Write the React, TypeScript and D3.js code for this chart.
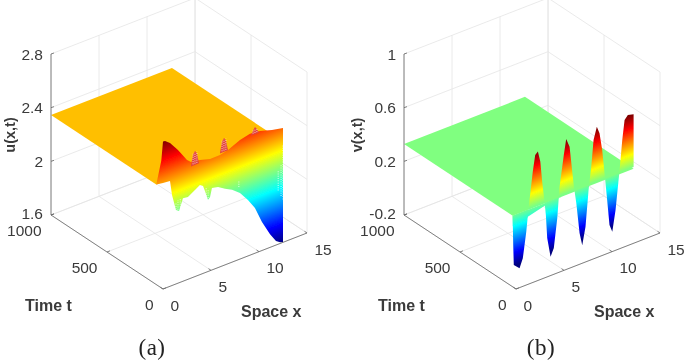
import React from 'react';
import * as d3 from 'd3';

// tick labels
const xTicks = [0, 5, 10, 15];
const tTicks = [0, 500, 1000];
const uTicks = [1.6, 2, 2.4, 2.8];
const vTicks = [-0.2, 0.2, 0.6, 1];

// panel (a): u(x,t) values read along the front of the surface
const uPlate = 2.345;
const uPlateEnd = 60;
const uRidgeX = [0, 0.21, 0.73, 1.56, 2.5, 2.92, 3.85, 4.9, 5.94, 6.77, 8.02, 9.06, 10.1, 11.35, 12.5];
const uRidge = [2.7, 2.697, 2.668, 2.593, 2.492, 2.465, 2.454, 2.432, 2.433, 2.447, 2.487, 2.505, 2.497, 2.469, 2.452];
const uLowX = [12.5, 12.19, 11.77, 11.15, 10.31, 9.58, 8.85, 8.02, 7.19, 6.46, 5.73, 5.1, 4.9, 4.69, 4.38, 4.17, 3.85, 3.33, 2.6, 2.08, 1.67, 1.35, 0.94, 0.73, 0];
const uLow = [1.602, 1.61, 1.63, 1.698, 1.812, 1.937, 2.017, 2.092, 2.139, 2.167, 2.2, 2.21, 2.15, 2.133, 2.206, 2.251, 2.268, 2.245, 2.213, 2.218, 2.135, 2.151, 2.274, 2.385, 2.39];
const uSpikeX = [3.33, 6.35, 9.58];
const uSpikeTop = [2.536, 2.549, 2.54];
const uSpikeBase = [2.432, 2.445, 2.487];
// sparse mesh patches: x, low, high
const uSparse = [
  [12.5, 1.92, 2.325], [12.3, 1.95, 2.18], [12.0, 2.0, 2.15],
  [1.35, 2.14, 2.2], [1.56, 2.13, 2.22], [1.8, 2.16, 2.22],
  [4.5, 2.15, 2.23], [4.7, 2.13, 2.21], [7.9, 2.14, 2.19],
];

// panel (b): v(x,t)
const vPlate = 0.33;
const vFrontT = 30;
const vWaveX = [0.06, 0.12, 0.72, 1.06, 1.42, 1.66, 2.1, 2.35, 2.63, 2.88, 3.08, 3.32, 3.46, 3.6, 3.95, 4.29, 4.65, 4.89, 5.33, 5.58, 5.93, 6.38, 6.63, 6.97, 7.25, 7.59, 7.91, 8.19, 8.43, 8.77, 9.05, 9.33, 9.57, 9.81, 10.09, 10.38, 10.72, 11.14, 11.42, 11.66, 12.0, 12.6, 12.6];
const vWave = [0.11, -0.041, -0.082, -0.017, 0.171, 0.339, 0.6, 0.717, 0.735, 0.653, 0.498, 0.342, 0.239, 0.063, -0.086, -0.03, 0.184, 0.41, 0.634, 0.746, 0.679, 0.369, 0.24, 0.007, -0.092, 0.037, 0.302, 0.467, 0.659, 0.749, 0.693, 0.559, 0.381, 0.199, -0.02, -0.078, 0.074, 0.36, 0.577, 0.719, 0.746, 0.735, 0.342];
// small dip of the front edge next to x = 0
const vDipX = [5.2, 3.3, 1.58, 0.9, 0.02, 0];
const vDip = [0.33, 0.31, 0.278, 0.22, 0.25, 0.33];

const jet = (v: number) => {
  const f = (d: number) => Math.round(255 * Math.max(0, Math.min(1, 1.5 - Math.abs(4 * v - d))));
  return `rgb(${f(3)},${f(2)},${f(1)})`;
};

const xS = d3.scaleLinear().domain([0, 15]).range([0, 144]);
const xSy = d3.scaleLinear().domain([0, 15]).range([0, -56]);
const tS = d3.scaleLinear().domain([0, 1000]).range([0, -112]);
const tSy = d3.scaleLinear().domain([0, 1000]).range([0, -74]);
const zH = 161;

function Panel({ dx, zTicks, zLabel, labelX, cap, capX, colorDomain, children }: any) {
  const zS = d3.scaleLinear().domain([zTicks[0], zTicks[3]]).range([0, -zH]);
  const P = (x: number, t: number, z: number) => [
    dx + 163 + xS(x) + tS(t),
    289 + xSy(x) + tSy(t) + zS(z),
  ];
  const L = (a: number[], b: number[], key: any, stroke = '#e4e4e4', w = 0.8) => (
    <line key={key} x1={a[0]} y1={a[1]} x2={b[0]} y2={b[1]} stroke={stroke} strokeWidth={w} />
  );
  const z0 = zTicks[0];
  const z1 = zTicks[3];

  // gradient running along z, its bands parallel to the x axis
  const o = P(0, 0, colorDomain[1]);
  const ex = P(1, 0, colorDomain[1]);
  const ez = P(0, 0, colorDomain[0]);
  const matrix = `matrix(${ex[0] - o[0]},${ex[1] - o[1]},${ez[0] - o[0]},${ez[1] - o[1]},${o[0]},${o[1]})`;
  const gid = `jet${dx}`;
  const poly = d3.line();

  return (
    <g>
      <defs>
        <linearGradient id={gid} gradientUnits="userSpaceOnUse" x1={0} y1={0} x2={0} y2={1} gradientTransform={matrix}>
          {d3.range(0, 1.001, 1 / 16).map((s) => (
            <stop key={s} offset={s} stopColor={jet(1 - s)} />
          ))}
        </linearGradient>
      </defs>

      {/* walls and floor */}
      {zTicks.map((z: number, i: number) => L(P(0, 1000, z), P(15, 1000, z), 'zb' + i))}
      {zTicks.map((z: number, i: number) => L(P(15, 1000, z), P(15, 0, z), 'zr' + i))}
      {xTicks.map((x) => L(P(x, 1000, z0), P(x, 1000, z1), 'xb' + x))}
      {tTicks.map((t) => L(P(15, t, z0), P(15, t, z1), 'tr' + t))}
      {xTicks.map((x) => L(P(x, 0, z0), P(x, 1000, z0), 'xf' + x))}
      {tTicks.map((t) => L(P(0, t, z0), P(15, t, z0), 'tf' + t))}

      {children({ P, gid, poly })}

      {/* axes */}
      {L(P(0, 1000, z0), P(0, 1000, z1), 'az', '#666')}
      {L(P(0, 0, z0), P(0, 1000, z0), 'at', '#666')}
      {L(P(0, 0, z0), P(15, 0, z0), 'ax', '#666')}
      {zTicks.map((z: number, i: number) => {
        const p = P(0, 1000, z);
        return (
          <g key={'zt' + i}>
            {L(p, [p[0] + 3, p[1] - 1], 'm', '#666')}
            <text x={p[0] - 8} y={p[1] + (i === 0 ? 4 : 5.5)} textAnchor="end" fontSize={15.5}>{d3.format('.1~f')(z).replace('−', '-')}</text>
          </g>
        );
      })}
      {tTicks.map((t) => {
        const p = P(0, t, z0);
        return (
          <g key={'tt' + t}>
            {L(p, [p[0] + 3, p[1] - 1.2], 'm', '#666')}
            <text x={p[0] - 9.5} y={p[1] + 20.5} textAnchor="end" fontSize={15.5}>{t}</text>
          </g>
        );
      })}
      {xTicks.map((x) => {
        const p = P(x, 0, z0);
        return (
          <g key={'xt' + x}>
            {L(p, [p[0] - 2.5, p[1] - 1.7], 'm', '#666')}
            <text x={p[0] + 7.5} y={p[1] + 21.5} fontSize={15.5}>{x}</text>
          </g>
        );
      })}

      <text transform={`translate(${labelX},135) rotate(-90)`} textAnchor="middle" fontSize={14.5} fontWeight="bold">{zLabel}</text>
      <text x={dx + 25} y={311} fontSize={16} fontWeight="bold">Time t</text>
      <text x={dx + 241} y={317} fontSize={16} fontWeight="bold">Space x</text>
      <text x={capX} y={355} textAnchor="middle" fontSize={23} letterSpacing={0.5} fill="#222" style={{ fontFamily: "'Liberation Serif',serif" }}>{cap}</text>
    </g>
  );
}

export default function App() {
  return (
    <svg width={685} height={362} style={{ position: 'absolute', left: 0, top: 0 }} fontFamily="'Liberation Sans',Arial,sans-serif" fill="#3a3a3a">
      <defs>
        <filter id="soft" x="0" y="0" width="100%" height="100%">
          <feGaussianBlur stdDeviation="0.45" />
        </filter>
      </defs>
      <g filter="url(#soft)">
        <Panel dx={0} zTicks={uTicks} zLabel="u(x,t)" labelX={15} cap="(a)" capX={152} colorDomain={[1.6, 2.7]}>
          {({ P, gid, poly }: any) => {
            const plate = [P(0, 1000, uPlate), P(12.6, 1000, uPlate), P(12.6, uPlateEnd, uPlate), P(0, uPlateEnd, uPlate)];
            const top = uRidgeX.map((x, i) => P(x, 0, uRidge[i]));
            const low = uLowX.map((x, i) => P(x, 0, uLow[i]));
            const outline = [P(0, uPlateEnd, uPlate), P(0, 15, 2.55), ...top, ...low];
            return (
              <g>
                <path d={poly(plate) + 'Z'} fill="#ffbf00" />
                <path d={poly(outline) + 'Z'} fill={`url(#${gid})`} />
                {uSpikeX.map((x, i) => {
                  const s = [P(x - 0.42, 0, uSpikeBase[i]), P(x - 0.2, 0, uSpikeTop[i] - 0.02), P(x, 0, uSpikeTop[i]), P(x + 0.2, 0, uSpikeTop[i] - 0.02), P(x + 0.42, 0, uSpikeBase[i])];
                  return <path key={x} d={poly(s) + 'Z'} fill="#e4433a" />;
                })}
                {uSpikeX.map((x, i) =>
                  [-0.2, 0, 0.2].map((d) => {
                    const a = P(x + d, 0, uSpikeBase[i] + 0.01);
                    const b = P(x + d, 0, uSpikeTop[i] - 0.01);
                    return <line key={x + d} x1={a[0]} y1={a[1]} x2={b[0]} y2={b[1]} stroke="#fff" strokeOpacity={0.75} strokeWidth={1} strokeDasharray="1 1.2" />;
                  })
                )}
                {uSparse.map((s, i) => {
                  const a = P(s[0], 0, s[1]);
                  const b = P(s[0], 0, s[2]);
                  return <line key={i} x1={a[0]} y1={a[1]} x2={b[0]} y2={b[1]} stroke="#fff" strokeOpacity={0.7} strokeWidth={1.1} strokeDasharray="1 1.3" />;
                })}
              </g>
            );
          }}
        </Panel>
        <Panel dx={353} zTicks={vTicks} zLabel="v(x,t)" labelX={362} cap="(b)" capX={541} colorDomain={[-0.02, 0.76]}>
          {({ P, gid, poly }: any) => {
            const plate = [P(0, 1000, vPlate), P(12.6, 1000, vPlate), P(12.6, vFrontT, vPlate), P(0, vFrontT, vPlate)];
            const dip = vDipX.map((x, i) => P(x, vFrontT, vDip[i]));
            const wave = vWaveX.map((x, i) => P(x, vFrontT, vWave[i]));
            return (
              <g>
                <path d={poly(plate) + 'Z'} fill="#80ff80" />
                <path d={poly(dip) + 'Z'} fill={`url(#${gid})`} />
                <path d={poly([...wave, P(0, vFrontT, vPlate)]) + 'Z'} fill={`url(#${gid})`} />
              </g>
            );
          }}
        </Panel>
      </g>
    </svg>
  );
}
